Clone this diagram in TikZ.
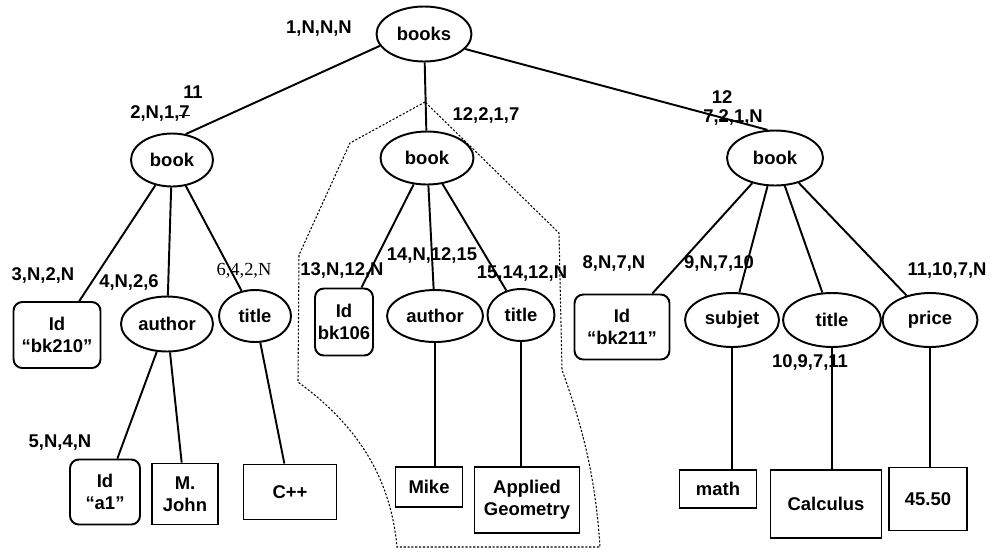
\documentclass[tikz,border=0pt]{standalone}
\usepackage{fontspec}
\setmainfont{Liberation Sans}
\newfontfamily\serifnum{Liberation Serif}
\usetikzlibrary{shapes.geometric}
\newsavebox\strikebox
\newcommand{\strikeout}[1]{\sbox\strikebox{#1}\rlap{\raisebox{0.25ex}{\rule{\wd\strikebox}{0.6pt}}}\usebox\strikebox}
\begin{document}
\begin{tikzpicture}[x=0.02cm,y=-0.02cm,
    font=\fontsize{10.5}{12.5}\selectfont\bfseries,
    elem/.style={draw,ellipse,line width=1.1pt,inner sep=0pt},
    idbox/.style={draw,rounded corners=5pt,line width=1.1pt,align=center,inner sep=0pt},
    valbox/.style={draw,line width=1.1pt,align=center,inner sep=0pt},
    lab/.style={inner sep=0pt},
    edge/.style={line width=1.1pt},
    region/.style={dash pattern=on 1.2pt off 1pt,line width=0.6pt}]
  \useasboundingbox (0,0) rectangle (993,552);

  \node[elem,minimum width=1.9cm,minimum height=1.1cm] (books) at (424,34) {books};
  \node[elem,minimum width=1.64cm,minimum height=1.06cm] (book1) at (172,160) {book};
  \node[elem,minimum width=1.86cm,minimum height=1.06cm] (book2) at (427,158) {book};
  \node[elem,minimum width=1.92cm,minimum height=1.1cm] (book3) at (775,158) {book};

  \node[idbox,minimum width=1.74cm,minimum height=1.32cm] (idA) at (57,335) {Id\\“bk210”};
  \node[elem,minimum width=1.84cm,minimum height=1.1cm] (auth1) at (167,324) {author};
  \node[elem,minimum width=1.44cm,minimum height=1.04cm] (tit1) at (255,316) {title};
  \node[idbox,minimum width=1.16cm,minimum height=1.34cm] (idB) at (344,322) {Id\\bk106};
  \node[elem,minimum width=1.92cm,minimum height=1.04cm] (auth2) at (435,316) {author};
  \node[elem,minimum width=1.34cm,minimum height=1.04cm] (tit2) at (521,315) {title};
  \node[idbox,minimum width=1.9cm,minimum height=1.3cm] (idC) at (622,327) {Id\\“bk211”};
  \node[elem,minimum width=1.88cm,minimum height=1.08cm] (subj) at (732,320) {subjet};
  \node[elem,minimum width=1.96cm,minimum height=1.08cm] (tit3) at (832,320) {title};
  \node[elem,minimum width=1.9cm,minimum height=1.08cm] (price) at (930,320) {price};

  \node[idbox,minimum width=1.4cm,minimum height=1.3cm] (idD) at (105,492) {Id\\“a1”};
  \node[valbox,minimum width=1.32cm,minimum height=1.22cm] (john) at (185,494) {M.\\John};
  \node[valbox,minimum width=1.86cm,minimum height=1.1cm] (cpp) at (290,492) {C++};
  \node[valbox,minimum width=1.34cm,minimum height=0.8cm] (mike) at (429,487) {Mike};
  \node[valbox,minimum width=2.1cm,minimum height=1.32cm] (geom) at (527,500) {Applied\\Geometry};
  \node[valbox,minimum width=1.54cm,minimum height=0.76cm] (math) at (718,489) {math};
  \node[valbox,minimum width=2.22cm,minimum height=1.36cm] (calc) at (826,504) {Calculus};
  \node[valbox,minimum width=1.56cm,minimum height=1.26cm] (cost) at (928,499) {45.50};

  \node[lab] (lbooks) at (319,29) {1,N,N,N};
  \node[lab] (lnew1) at (193,92) {11};
  \node[lab] (lbook1) at (160,113) {2,N,1,\strikeout{7}};
  \node[lab] (lbook2) at (486,115) {12,2,1,7};
  \node[lab] (lnew2) at (722,97) {12};
  \node[lab] (lbook3) at (733,117) {7,\strikeout{2},1,N};
  \node[lab] (lidA) at (43,275) {3,N,2,N};
  \node[lab] (lauth1) at (129,282) {4,N,2,6};
  \node[lab,font=\serifnum\fontsize{10.5}{12.5}\selectfont] (ltit1) at (244,271) {6,4,2,N};
  \node[lab] (lidB) at (342,270) {13,N,12,N};
  \node[lab] (lauth2) at (432,255) {14,N,12,15};
  \node[lab] (ltit2) at (522,273) {15,14,12,N};
  \node[lab] (lidC) at (614,263) {8,N,7,N};
  \node[lab] (lsubj) at (719,263) {9,N,7,10};
  \node[lab] (lprice) at (947,270) {11,10,7,N};
  \node[lab] (ltit3) at (810,362) {10,9,7,11};
  \node[lab] (lidD) at (60,443) {5,N,4,N};

  \draw[edge] (books.195) -- (book1.62);
  \draw[edge] (books) -- (book2);
  \draw[edge] (books.340) -- (book3.105);
  \draw[edge] (book1) -- (idA);
  \draw[edge] (book1) -- (auth1);
  \draw[edge] (book1) -- (tit1);
  \draw[edge] (book2) -- (idB);
  \draw[edge] (book2) -- (auth2);
  \draw[edge] (book2) -- (tit2);
  \draw[edge] (book3) -- (idC);
  \draw[edge] (book3) -- (subj);
  \draw[edge] (book3) -- (tit3);
  \draw[edge] (book3) -- (price);
  \draw[edge] (auth1) -- (idD);
  \draw[edge] (auth1) -- (john);
  \draw[edge] (tit1) -- (cpp);
  \draw[edge] (auth2.south) -- (auth2.south |- mike.north);
  \draw[edge] (tit2.south) -- (tit2.south |- geom.north);
  \draw[edge] (subj.south) -- (subj.south |- math.north);
  \draw[edge] (tit3.south) -- (tit3.south |- calc.north);
  \draw[edge] (price.south) -- (price.south |- cost.north);

  \draw[region] (425,102) -- (350,143) -- (299,255) -- (298,382)
    .. controls (350,420) and (390,470) .. (397,547) -- (600,547)
    .. controls (595,470) and (580,420) .. (562,370) -- (559,233) -- cycle;
\end{tikzpicture}
\end{document}
